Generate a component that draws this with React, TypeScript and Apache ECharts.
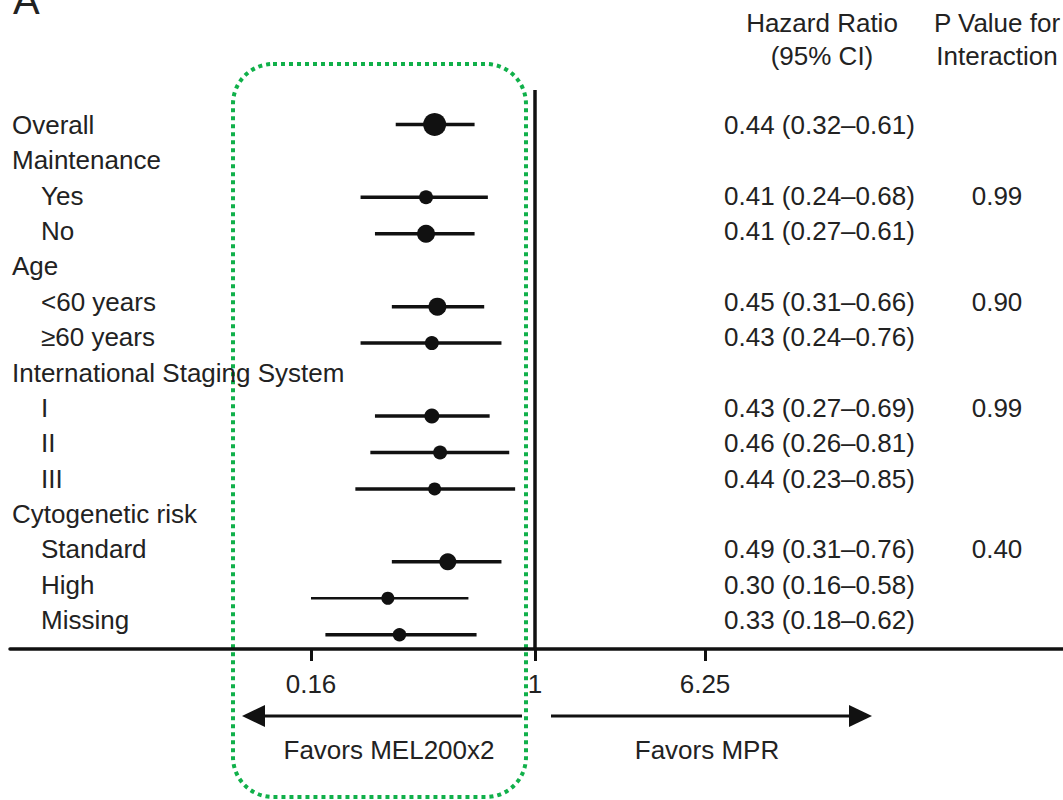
import React, { useEffect, useRef } from "react";
import * as echarts from "echarts";

// ---------------- data ----------------
const rowLabels = [
  "Overall",
  "Maintenance",
  "Yes",
  "No",
  "Age",
  "<60 years",
  "≥60 years",
  "International Staging System",
  "I",
  "II",
  "III",
  "Cytogenetic risk",
  "Standard",
  "High",
  "Missing",
];
const isSubgroup = [false, false, true, true, false, true, true, false, true, true, true, false, true, true, true];
const hazardRatio = [0.44, null, 0.41, 0.41, null, 0.45, 0.43, null, 0.43, 0.46, 0.44, null, 0.49, 0.3, 0.33];
const ciLower = [0.32, null, 0.24, 0.27, null, 0.31, 0.24, null, 0.27, 0.26, 0.23, null, 0.31, 0.16, 0.18];
const ciUpper = [0.61, null, 0.68, 0.61, null, 0.66, 0.76, null, 0.69, 0.81, 0.85, null, 0.76, 0.58, 0.62];
const pInteraction = ["", "", "0.99", "", "", "0.90", "", "", "0.99", "", "", "", "0.40", "", ""];
const leftTickValues = [0.16, 1];
const rightTickValues = [6.25];
const referenceHR = 1;
const headerHR = ["Hazard Ratio", "(95% CI)"];
const headerP = ["P Value for", "Interaction"];
const favorLabels = ["Favors MEL200x2", "Favors MPR"];

// ---------------- styles ----------------
const markerRadius = [11.5, 0, 7, 9, 0, 9, 7, 0, 7.5, 7, 6.5, 0, 8.5, 6.5, 6.7];
const ciLineWidth = [3.5, 0, 3.5, 3.5, 0, 3.5, 3.5, 0, 3.5, 3.5, 3.5, 0, 3.5, 2.5, 3.5];

const FONT = "'Liberation Sans', Arial, Helvetica, sans-serif";
const TEXT = "#222";
const INK = "#111";
const FS = 26;

// layout (pixels)
const W = 1063;
const H = 800;
const LOG_BASE = 6.25;
const X_ONE = 535;
const PX_UNIT_L = 224;
const PX_UNIT_R = 170;
const G1_LEFT = 10;
const G1_TOP = 90;
const AXIS_Y = 649;
const ROW0_Y = 124.4;
const ROW_STEP = 36.45;

const fmt = (v: number) => v.toFixed(2);
const hrText = rowLabels.map((_, i) =>
  hazardRatio[i] == null
    ? ""
    : `${fmt(hazardRatio[i] as number)} (${fmt(ciLower[i] as number)}–${fmt(ciUpper[i] as number)})`
);

const seriesData = rowLabels
  .map((_, i) => (hazardRatio[i] == null ? null : [i, ciLower[i], hazardRatio[i], ciUpper[i]]))
  .filter((d) => d != null) as number[][];

export default function App() {
  const ref = useRef<HTMLDivElement>(null);

  useEffect(() => {
    if (!ref.current) return;
    const chart = echarts.init(ref.current, undefined, { renderer: "svg" });

    const xMinL = Math.pow(LOG_BASE, (G1_LEFT - X_ONE) / PX_UNIT_L);
    const xMaxL = Math.pow(LOG_BASE, (W - X_ONE) / PX_UNIT_L);
    const xMinR = Math.pow(LOG_BASE, (G1_LEFT - X_ONE) / PX_UNIT_R);
    const xMaxR = Math.pow(LOG_BASE, (W - X_ONE) / PX_UNIT_R);
    const yMin = (G1_TOP - ROW0_Y) / ROW_STEP;
    const yMax = (AXIS_Y - ROW0_Y) / ROW_STEP;

    const textStyle = { fontFamily: FONT, fontSize: FS, color: TEXT };

    const option: any = {
      animation: false,
      backgroundColor: "#fff",
      grid: [
        { left: 12, right: W - 724, top: 107.3, height: 35.36 * 15 },
        { left: G1_LEFT, right: 0, top: G1_TOP, bottom: H - AXIS_Y },
      ],
      xAxis: [
        {
          type: "log",
          logBase: LOG_BASE,
          gridIndex: 1,
          position: "bottom",
          min: xMinL,
          max: xMaxL,
          axisLine: { show: true, onZero: false, lineStyle: { color: INK, width: 3.5 } },
          axisTick: {
            show: true,
            length: 12,
            lineStyle: { color: INK, width: 3 },
            customValues: leftTickValues,
          },
          axisLabel: {
            show: true,
            customValues: leftTickValues,
            margin: 22,
            formatter: (v: number) => String(v),
            ...textStyle,
          },
          splitLine: { show: false },
          minorTick: { show: false },
        },
        {
          type: "log",
          logBase: LOG_BASE,
          gridIndex: 1,
          position: "bottom",
          offset: 0,
          min: xMinR,
          max: xMaxR,
          axisLine: { show: false, onZero: false },
          axisTick: {
            show: true,
            length: 12,
            lineStyle: { color: INK, width: 3 },
            customValues: rightTickValues,
          },
          axisLabel: {
            show: true,
            customValues: rightTickValues,
            margin: 22,
            formatter: (v: number) => String(v),
            ...textStyle,
          },
          splitLine: { show: false },
        },
        { type: "value", gridIndex: 0, min: 0, max: 1, show: false },
      ],
      yAxis: [
        {
          type: "category",
          gridIndex: 0,
          inverse: true,
          position: "left",
          data: rowLabels,
          axisLine: { show: false },
          axisTick: { show: false },
          splitLine: { show: false },
          axisLabel: {
            interval: 0,
            align: "left",
            margin: 0,
            ...textStyle,
            formatter: (v: string, idx: number) => (isSubgroup[idx] ? `{s|${v}}` : `{h|${v}}`),
            rich: {
              h: { ...textStyle },
              s: { ...textStyle, padding: [0, 0, 0, 29] },
            },
          },
        },
        {
          type: "category",
          gridIndex: 0,
          inverse: true,
          position: "right",
          data: rowLabels,
          axisLine: { show: false },
          axisTick: { show: false },
          splitLine: { show: false },
          axisLabel: {
            interval: 0,
            align: "left",
            margin: 0,
            ...textStyle,
            formatter: (_v: string, idx: number) => hrText[idx],
          },
        },
        {
          type: "category",
          gridIndex: 0,
          inverse: true,
          position: "right",
          offset: 273,
          data: rowLabels,
          axisLine: { show: false },
          axisTick: { show: false },
          splitLine: { show: false },
          axisLabel: {
            interval: 0,
            align: "center",
            margin: 0,
            ...textStyle,
            formatter: (_v: string, idx: number) => pInteraction[idx],
          },
        },
        {
          type: "value",
          gridIndex: 1,
          inverse: true,
          min: yMin,
          max: yMax,
          show: false,
          axisLine: { onZero: false },
        },
      ],
      series: [
        {
          type: "custom",
          xAxisIndex: 0,
          yAxisIndex: 3,
          silent: true,
          encode: { x: [1, 2, 3], y: 0 },
          data: seriesData,
          renderItem: (_params: any, api: any) => {
            const row = api.value(0);
            const pLo = api.coord([api.value(1), row]);
            const pHr = api.coord([api.value(2), row]);
            const pHi = api.coord([api.value(3), row]);
            return {
              type: "group",
              children: [
                {
                  type: "line",
                  shape: { x1: pLo[0], y1: pLo[1], x2: pHi[0], y2: pHi[1] },
                  style: { stroke: INK, lineWidth: ciLineWidth[row] },
                },
                {
                  type: "circle",
                  shape: { cx: pHr[0], cy: pHr[1], r: markerRadius[row] },
                  style: { fill: INK },
                },
              ],
            };
          },
          markLine: {
            silent: true,
            symbol: "none",
            label: { show: false },
            lineStyle: { color: INK, width: 3.5, type: "solid" },
            data: [{ xAxis: referenceHR }],
          },
        },
      ],
      graphic: [
        {
          type: "text",
          style: { text: "A", x: 13, y: 0, font: `40px ${FONT}`, fill: TEXT, verticalAlign: "middle" },
        },
        {
          type: "text",
          style: { text: headerHR.join("\n"), x: 822, y: 6, font: `${FS}px ${FONT}`, fill: TEXT, align: "center", lineHeight: 33 },
        },
        {
          type: "text",
          style: { text: headerP.join("\n"), x: 997, y: 6, font: `${FS}px ${FONT}`, fill: TEXT, align: "center", lineHeight: 33 },
        },
        {
          type: "rect",
          shape: { x: 233, y: 64, width: 293, height: 733, r: 40 },
          style: { fill: "none", stroke: "#10b04a", lineWidth: 4, lineDash: [4, 4] },
        },
        {
          type: "line",
          shape: { x1: 262, y1: 716, x2: 522, y2: 716 },
          style: { stroke: INK, lineWidth: 3 },
        },
        {
          type: "polygon",
          shape: { points: [[242, 716], [265, 705], [265, 727]] },
          style: { fill: INK },
        },
        {
          type: "line",
          shape: { x1: 551, y1: 716, x2: 851, y2: 716 },
          style: { stroke: INK, lineWidth: 3 },
        },
        {
          type: "polygon",
          shape: { points: [[872, 716], [849, 705], [849, 727]] },
          style: { fill: INK },
        },
        {
          type: "text",
          style: { text: favorLabels[0], x: 389, y: 750, font: `${FS}px ${FONT}`, fill: TEXT, align: "center", verticalAlign: "middle" },
        },
        {
          type: "text",
          style: { text: favorLabels[1], x: 707, y: 750, font: `${FS}px ${FONT}`, fill: TEXT, align: "center", verticalAlign: "middle" },
        },
      ],
    };

    chart.setOption(option);
    return () => chart.dispose();
  }, []);

  return (
    <div
      ref={ref}
      style={{ position: "absolute", left: 0, top: 0, width: W, height: H }}
    />
  );
}
